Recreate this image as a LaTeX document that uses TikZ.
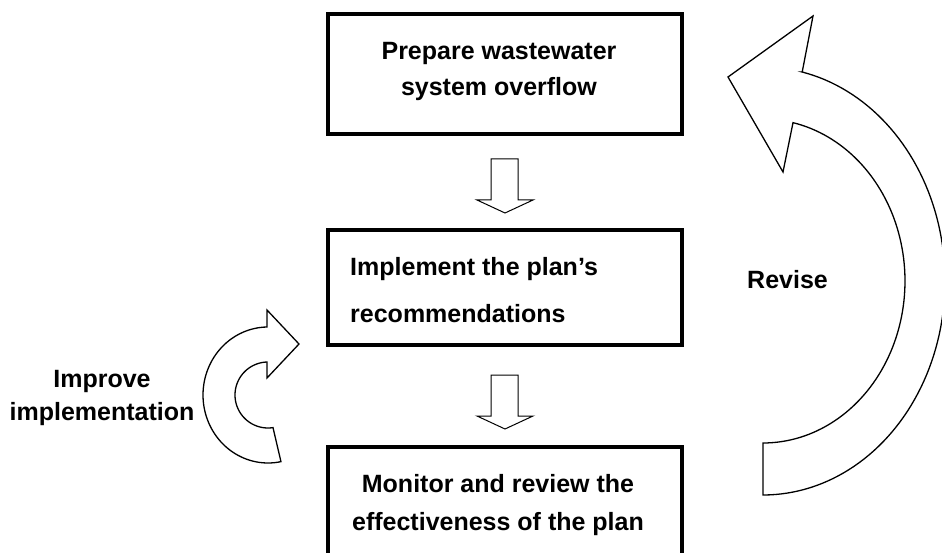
\documentclass[tikz,border=0pt]{standalone}
\usepackage{fontspec}
\setmainfont{Liberation Sans}
\begin{document}
\begin{tikzpicture}[x=1pt,y=-1pt,
  box/.style={draw,line width=4.5pt,minimum width=354pt,inner sep=0pt,line join=miter},
  lbl/.style={font=\fontsize{25}{36}\selectfont\bfseries,inner sep=0pt,align=center},
  curved/.style={draw,line width=1.3pt,fill=white,line join=miter},
  blockarrow/.style={draw,line width=1pt,fill=white,line join=miter},
  hollowdown/.pic={\draw[blockarrow] (-14,0) -- (13,0) -- (13,41) -- (28,41) -- (0,54) -- (-28,41) -- (-14,41) -- cycle;}
]
\useasboundingbox[fill=white] (0,0) rectangle (942,553);

% boxes
\node[box,minimum height=120pt] (b1) at (505,74) {};
\node[box,minimum height=115pt] (b2) at (505,287.5) {};
\node[box,minimum height=123pt] (b3) at (505,508.5) {};

% texts (anchor base = baseline of the last line)
\node[lbl,anchor=base] (t1) at (499,96) {Prepare wastewater\\system overflow};
\node[lbl,align=left,anchor=base west,font=\fontsize{25}{47}\selectfont\bfseries] (t2) at (350,322) {Implement the plan’s\\recommendations};
\node[lbl,anchor=base,font=\fontsize{25}{38}\selectfont\bfseries] (t3) at (498,530) {Monitor and review the\\effectiveness of the plan};
\node[lbl,anchor=base,font=\fontsize{25}{33}\selectfont\bfseries] (t4) at (102,420) {Improve\\implementation};
\node[lbl,anchor=base] (t5) at (787.5,288) {Revise};

% down block arrows
\pic at (505,159) {hollowdown};
\pic at (505,375) {hollowdown};

% big curved arrow (Revise)
\path[curved] (802.2,72)
  -- plot[domain=77.6:-90,samples=90] ({763+182*cos(\x)},{281-214*sin(\x)})
  -- plot[domain=-90:77.8,samples=90] ({763+142*cos(\x)},{281-162*sin(\x)})
  -- (783,172) -- (728,77) -- (813,16) -- cycle;

% small curved arrow (Improve implementation)
\path[curved] (267,327)
  -- plot[domain=91:281.5,samples=70] ({268+65*cos(\x)},{395-68*sin(\x)})
  -- plot[domain=278.7:91.7,samples=70] ({268+33*cos(\x)},{395-33*sin(\x)})
  -- (267,378) -- (299,344) -- (267,310) -- cycle;
\end{tikzpicture}
\end{document}
